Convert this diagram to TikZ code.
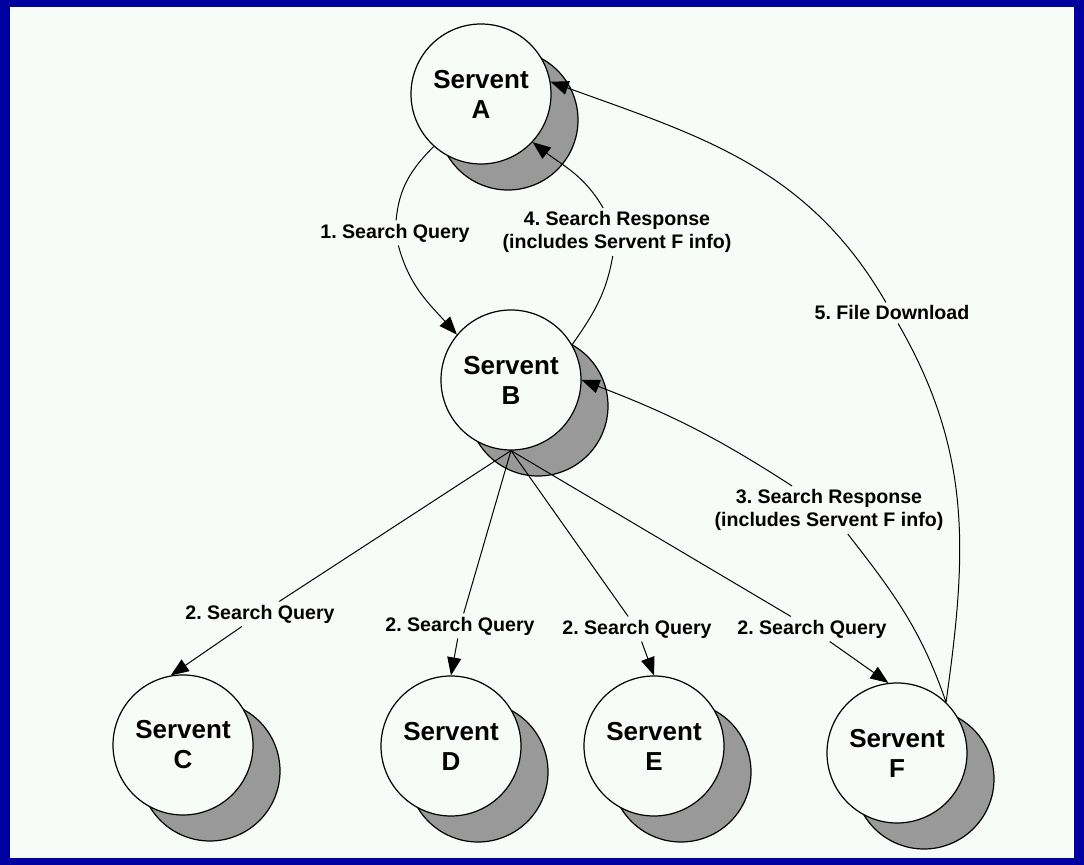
\documentclass[tikz,border=0pt]{standalone}
\usepackage{fontspec}
\setmainfont{Liberation Sans}
\usetikzlibrary{arrows.meta}
\definecolor{framebl}{RGB}{0,0,160}
\definecolor{paper}{RGB}{248,252,248}
\definecolor{shade}{RGB}{153,153,153}
\frenchspacing

\begin{document}
\begin{tikzpicture}[x=0.5pt,y=0.5pt,>={Triangle[length=9pt,width=7pt]},
		servent/.style={circle,draw,fill=paper,line width=0.6pt,minimum size=70pt,inner sep=0pt,align=center,font=\fontsize{13}{15}\selectfont\bfseries},
		servshade/.style={draw,fill=shade,line width=0.6pt},
		lbl/.style={fill=paper,inner sep=1.5pt,align=center,font=\fontsize{9.8}{11.5}\selectfont\bfseries},
		link/.style={line width=0.5pt}]
			\fill[framebl] (0,0) rectangle (1084,-865);
			\fill[paper]   (10,-7) rectangle (1074,-858);
			\foreach \n/\x/\y in {A/481/94,B/511/380,C/183/745,D/451/746,E/654/746,F/897/753}{
				\draw[servshade] (\x+27,-\y-26) circle (35pt);
				\node[servent] (\n) at (\x,-\y) {Servent\\\n};
			}
			\node[lbl] (q1)  at (395,-233) {1. Search Query};
			\node[lbl] (r4)  at (617,-232) {4. Search Response\\(includes Servent F info)};
			\node[lbl] (dl5) at (892,-313) {5. File Download};
			\node[lbl] (r3)  at (829,-510) {3. Search Response\\(includes Servent F info)};
			\node[lbl] (q2c) at (260,-614) {2. Search Query};
			\node[lbl] (q2d) at (460,-626) {2. Search Query};
			\node[lbl] (q2e) at (637,-629) {2. Search Query};
			\node[lbl] (q2f) at (812,-629) {2. Search Query};
			\draw[link,->] (A.228) to[out=225,in=85] (q1) to[out=-75,in=132] (B.140);
			\draw[link,->] (B.30) to[out=55,in=-100] (r4) to[out=120,in=-38] (A.317);
			\draw[link,->] (F.46) to[out=109,in=-52] (r3) to[out=147,in=-21] (B.0);
			\draw[link,->] (F.46) to[out=82,in=-60] (dl5) to[out=120,in=-20] (A.10);
			\draw[link,->] (B.south) -- (q2c) -- (C.100);
			\draw[link,->] (B.south) -- (q2d) -- (D.north);
			\draw[link,->] (B.south) -- (q2e) -- (E.north);
			\draw[link,->] (B.south) -- (q2f) -- (F.97);
		\end{tikzpicture}
\end{document}
